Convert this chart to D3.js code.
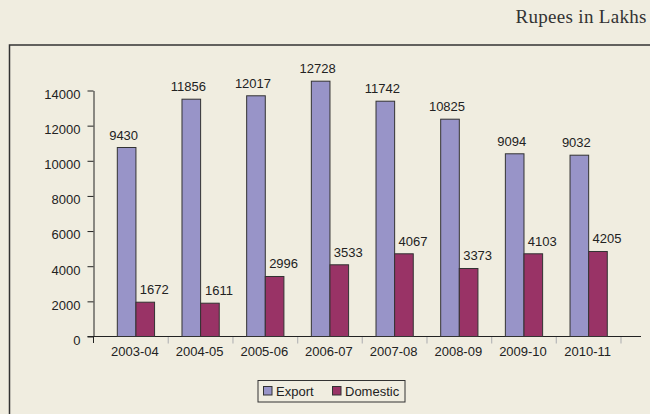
<!DOCTYPE html>
<html>
<head>
<meta charset="utf-8">
<script src="https://cdn.jsdelivr.net/npm/d3@7"></script>
<style>
  html, body { margin: 0; padding: 0; background: #f0ede0; }
  svg { display: block; }
  text { font-family: "Liberation Sans", Arial, sans-serif; fill: #222; }
</style>
</head>
<body>
<div id="chart"></div>
<script>
// categories (financial years)
var years = ["2003-04", "2004-05", "2005-06", "2006-07", "2007-08", "2008-09", "2009-10", "2010-11"];

// bar heights as drawn against the axis
var exportValues = [10756, 13505, 13699, 14530, 13391, 12367, 10398, 10318];
var domesticValues = [1952, 1895, 3415, 4081, 4707, 3870, 4707, 4838];

// numbers printed above the bars
var exportLabels = [9430, 11856, 12017, 12728, 11742, 10825, 9094, 9032];
var domesticLabels = [1672, 1611, 2996, 3533, 4067, 3373, 4103, 4205];

var yTicks = [0, 2000, 4000, 6000, 8000, 10000, 12000, 14000];
var seriesNames = ["Export", "Domestic"];
var colors = ["#9894c8", "#993366"];

var W = 650, H = 414;
var svg = d3.select("#chart").append("svg")
    .attr("width", W)
    .attr("height", H);

// title top right
svg.append("text")
    .attr("x", 646.5)
    .attr("y", 23)
    .attr("text-anchor", "end")
    .style("font-family", "'Liberation Serif', 'DejaVu Serif', serif")
    .style("font-size", "19px")
    .style("fill", "#333")
    .attr("textLength", 131)
    .text("Rupees in Lakhs");

// outer frame (runs off the right and bottom of the picture)
svg.append("rect")
    .attr("x", 9.5)
    .attr("y", 45)
    .attr("width", 700)
    .attr("height", 450)
    .attr("fill", "none")
    .attr("stroke", "#333")
    .attr("stroke-width", 1.5);

var axisLeft = 93.5, axisRight = 641, y0 = 336.5;

var x = d3.scaleBand()
    .domain(years)
    .range([103.6, 621])
    .paddingInner(0)
    .paddingOuter(0);

var bw = x.bandwidth();
var xs = d3.scaleBand()
    .domain(seriesNames)
    .range([bw * 0.212, bw * 0.788]);

var y = d3.scaleLinear()
    .domain([0, 14000])
    .range([y0, 90.5]);

// y axis
var yAxis = svg.append("g")
    .attr("transform", "translate(" + axisLeft + ",0)")
    .call(d3.axisLeft(y).tickValues(yTicks).tickFormat(d3.format("d"))
        .tickSize(6).tickPadding(7).tickSizeOuter(0));
yAxis.select(".domain").attr("stroke", "#222");
yAxis.selectAll(".tick line").attr("stroke", "#222");
yAxis.selectAll(".tick text")
    .attr("dy", "0.6em")
    .style("font-size", "13px")
    .style("font-family", "'Liberation Sans', Arial, sans-serif")
    .style("fill", "#222");

// x axis line and the category dividers
svg.append("line")
    .attr("x1", axisLeft - 6).attr("x2", axisRight)
    .attr("y1", y0).attr("y2", y0)
    .attr("stroke", "#222");
svg.append("line")
    .attr("x1", axisLeft).attr("x2", axisLeft)
    .attr("y1", y0).attr("y2", y0 + 6.5)
    .attr("stroke", "#222");
svg.selectAll("line.divider")
    .data(years)
    .enter().append("line")
    .attr("class", "divider")
    .attr("x1", function(d) { return x(d) + bw; })
    .attr("x2", function(d) { return x(d) + bw; })
    .attr("y1", y0 + 0.5)
    .attr("y2", y0 + 7)
    .attr("stroke", "#bbb")
    .attr("stroke-width", 1.3);

svg.selectAll("text.cat")
    .data(years)
    .enter().append("text")
    .attr("class", "cat")
    .attr("x", function(d) { return x(d) + bw / 2 - 1; })
    .attr("y", 356)
    .attr("text-anchor", "middle")
    .style("font-size", "13px")
    .text(function(d) { return d; });

// bars
var series = [
    { name: "Export", values: exportValues, labels: exportLabels, color: colors[0], dx: -3 },
    { name: "Domestic", values: domesticValues, labels: domesticLabels, color: colors[1], dx: 9 }
];

series.forEach(function(s) {
    var g = svg.append("g");
    g.selectAll("rect")
        .data(s.values)
        .enter().append("rect")
        .attr("x", function(d, i) { return x(years[i]) + xs(s.name); })
        .attr("y", function(d) { return y(d); })
        .attr("width", xs.bandwidth())
        .attr("height", function(d) { return y0 - y(d); })
        .attr("fill", s.color)
        .attr("stroke", "#333")
        .attr("stroke-width", 1);

    g.selectAll("text")
        .data(s.labels)
        .enter().append("text")
        .attr("x", function(d, i) { return x(years[i]) + xs(s.name) + xs.bandwidth() / 2 + s.dx; })
        .attr("y", function(d, i) { return y(s.values[i]) - 8; })
        .attr("text-anchor", "middle")
        .style("font-size", "13px")
        .text(function(d) { return d; });
});

// legend
var legend = svg.append("g");
legend.append("rect")
    .attr("x", 258).attr("y", 380.5)
    .attr("width", 147).attr("height", 21.5)
    .attr("fill", "none")
    .attr("stroke", "#333")
    .attr("stroke-width", 1);

var legendX = [263.5, 332.5];
seriesNames.forEach(function(name, i) {
    legend.append("rect")
        .attr("x", legendX[i]).attr("y", 386.5)
        .attr("width", 8.5).attr("height", 8.5)
        .attr("fill", colors[i])
        .attr("stroke", "#333");
    legend.append("text")
        .attr("x", legendX[i] + 12.5)
        .attr("y", 396)
        .style("font-size", "13px")
        .text(name);
});
</script>
</body>
</html>
